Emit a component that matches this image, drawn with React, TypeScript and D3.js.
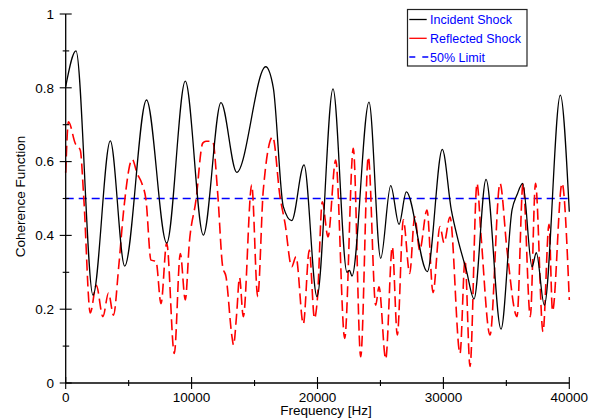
import React from "react";
import * as d3 from "d3";

const incidentFreq = [0, 818, 2168, 3543, 4686, 6418, 8022, 9500, 10930, 12335, 13583, 15886, 16490, 17284, 17951, 18928, 19960, 21232, 22344, 22542, 22740, 24091, 25020, 25815, 26474, 27054, 28722, 29913, 30628, 31161, 31820, 32432, 33385, 34577, 35451, 35848, 36300, 37039, 37380, 38016, 39287, 40000];
const incidentVal = [0.803, 0.9, 0.238, 0.656, 0.317, 0.767, 0.379, 0.818, 0.401, 0.76, 0.571, 0.857, 0.8, 0.478, 0.44, 0.591, 0.234, 0.797, 0.3, 0.305, 0.29, 0.761, 0.338, 0.535, 0.43, 0.518, 0.302, 0.633, 0.469, 0.388, 0.306, 0.228, 0.552, 0.146, 0.469, 0.51, 0.541, 0.315, 0.353, 0.211, 0.78, 0.464];

const reflectedFreq = [0, 222, 763, 1160, 1430, 1954, 2431, 2955, 3400, 3797, 4210, 4607, 5290, 5663, 6061, 6378, 6775, 7173, 7570, 8022, 8626, 9103, 9500, 9818, 10350, 10882, 11144, 11676, 12073, 12470, 12733, 13209, 13328, 13583, 13805, 14107, 14774, 15251, 15695, 16442, 17022, 17419, 17951, 18293, 18873, 19349, 19762, 19985, 20382, 20835, 21446, 22161, 22844, 23432, 24036, 24623, 24886, 25418, 25942, 26339, 26816, 27324, 27721, 28118, 28698, 29175, 29731, 30048, 30525, 31320, 31717, 32114, 32670, 32988, 33703, 34497, 35053, 35848, 36324, 36903, 37316, 37912, 38389, 38667, 39422, 40000];
const reflectedVal = [0.57, 0.708, 0.649, 0.631, 0.505, 0.19, 0.265, 0.18, 0.244, 0.184, 0.315, 0.469, 0.606, 0.569, 0.54, 0.496, 0.333, 0.33, 0.215, 0.379, 0.08, 0.351, 0.225, 0.379, 0.496, 0.65, 0.655, 0.655, 0.514, 0.315, 0.288, 0.125, 0.103, 0.189, 0.286, 0.18, 0.537, 0.234, 0.523, 0.667, 0.505, 0.433, 0.315, 0.342, 0.16, 0.36, 0.175, 0.225, 0.491, 0.396, 0.604, 0.121, 0.636, 0.071, 0.613, 0.211, 0.261, 0.065, 0.369, 0.13, 0.442, 0.297, 0.451, 0.36, 0.469, 0.245, 0.424, 0.38, 0.45, 0.08, 0.333, 0.045, 0.541, 0.4, 0.13, 0.541, 0.36, 0.18, 0.541, 0.18, 0.541, 0.139, 0.43, 0.195, 0.541, 0.225];

const limitValue = 0.5;
const xMajorTicks = [0, 10000, 20000, 30000, 40000];
const xMinorTicks = [5000, 15000, 25000, 35000];
const yMajorTicks = [0, 0.2, 0.4, 0.6, 0.8, 1];
const yMinorTicks = [0.1, 0.3, 0.5, 0.7, 0.9];
const legendLabels = ["Incident Shock", "Reflected Shock", "50% Limit"];

export default function App() {
  const x = d3.scaleLinear().domain([0, 40000]).range([65.7, 569.3]);
  const y = d3.scaleLinear().domain([0, 1]).range([383, 14]);
  const line = d3
    .line<[number, number]>()
    .x((d) => x(d[0]))
    .y((d) => y(d[1]))
    .curve(d3.curveMonotoneX);
  const inc = line(incidentFreq.map((f, i) => [f, incidentVal[i]]) as [number, number][]) || "";
  const ref = line(reflectedFreq.map((f, i) => [f, reflectedVal[i]]) as [number, number][]) || "";
  const font = "'Liberation Sans', Arial, sans-serif";
  const x0 = x(0);
  const y0 = y(0);
  return (
    <svg width={598} height={418} style={{ position: "absolute", left: 0, top: 0, background: "#fff" }} fontFamily={font}>
      <rect x={0} y={0} width={598} height={418} fill="#fff" />
      <line x1={x(0)} x2={x(40000)} y1={y(limitValue)} y2={y(limitValue)} stroke="#0000ff" strokeWidth={1.6} strokeDasharray="8,5" />
      <path d={ref} fill="none" stroke="#ff0000" strokeWidth={1.6} strokeDasharray="11,5" />
      <path d={inc} fill="none" stroke="#000" strokeWidth={1.3} />
      <line x1={x0} x2={x0} y1={y(1)} y2={y0} stroke="#000" strokeWidth={1.3} />
      <line x1={x0} x2={x(40000)} y1={y0} y2={y0} stroke="#000" strokeWidth={1.3} />
      {yMajorTicks.map((t) => (
        <g key={"ym" + t}>
          <line x1={x0 - 6} x2={x0 + 6} y1={y(t)} y2={y(t)} stroke="#000" strokeWidth={1.1} />
          <text x={54} y={y(t)} dy="0.35em" textAnchor="end" fontSize={13.5} fill="#000">
            {d3.format("~g")(t)}
          </text>
        </g>
      ))}
      {yMinorTicks.map((t) => (
        <line key={"yn" + t} x1={x0 - 3} x2={x0 + 3.5} y1={y(t)} y2={y(t)} stroke="#000" strokeWidth={1.1} />
      ))}
      {xMajorTicks.map((t) => (
        <g key={"xm" + t}>
          <line x1={x(t)} x2={x(t)} y1={y0 - 6} y2={y0 + 6} stroke="#000" strokeWidth={1.1} />
          <text x={x(t)} y={401.5} textAnchor="middle" fontSize={13.5} fill="#000">
            {String(t)}
          </text>
        </g>
      ))}
      {xMinorTicks.map((t) => (
        <line key={"xn" + t} x1={x(t)} x2={x(t)} y1={y0 - 3} y2={y0 + 3} stroke="#000" strokeWidth={1.1} />
      ))}
      <text x={326} y={415} textAnchor="middle" fontSize={13.5} fill="#000">
        Frequency [Hz]
      </text>
      <text transform="translate(25,196.5) rotate(-90)" textAnchor="middle" fontSize={13.5} fill="#000">
        Coherence Function
      </text>
      <rect x={407.5} y={9.5} width={119.5} height={56.5} fill="#fff" stroke="#222" strokeWidth={1.2} />
      <line x1={409.3} x2={426.7} y1={19.5} y2={19.5} stroke="#000" strokeWidth={1.3} />
      <line x1={409.3} x2={426.7} y1={38.3} y2={38.3} stroke="#ff0000" strokeWidth={1.3} />
      <line x1={409.3} x2={429} y1={57} y2={57} stroke="#0000ff" strokeWidth={1.6} strokeDasharray="6,7" />
      {legendLabels.map((l, i) => (
        <text key={l} x={430} y={24 + i * 18.8} fontSize={12.5} fill="#0000ff">
          {l}
        </text>
      ))}
    </svg>
  );
}
